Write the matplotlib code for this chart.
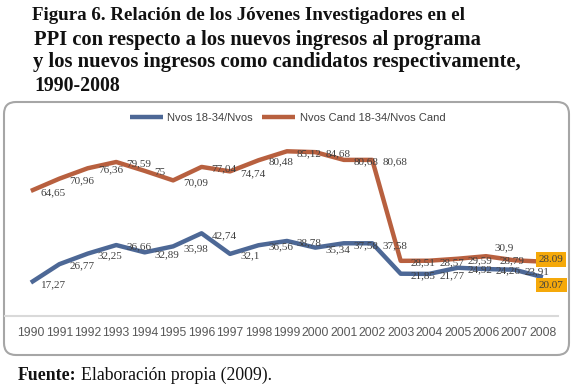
import matplotlib
matplotlib.use("Agg")
import matplotlib.pyplot as plt
from matplotlib.patches import FancyBboxPatch

# Data
years = [str(y) for y in range(1990, 2009)]
nvos = [17.27, 26.77, 32.25, 36.66, 32.89, 35.98, 42.74, 32.1, 36.56, 38.78,
        35.34, 37.58, 37.58, 21.85, 21.77, 24.92, 24.26, 23.91, 20.07]
nvos_cand = [64.65, 70.96, 76.36, 79.59, 75, 70.09, 77.04, 74.74, 80.48, 85.12,
             84.68, 80.68, 80.68, 28.51, 28.57, 29.59, 30.9, 28.79, 28.09]
series_names = ["Nvos 18-34/Nvos", "Nvos Cand 18-34/Nvos Cand"]

title_lines = [
    "Figura 6. Relación de los Jóvenes Investigadores en el",
    "PPI con respecto a los nuevos ingresos al programa",
    "y los nuevos ingresos como candidatos respectivamente,",
    "1990-2008",
]

blue = "#4d6896"
brown = "#b8603f"
label_col = "#404040"
highlight = "#f5a90a"

fig = plt.figure(figsize=(5.75, 3.85), dpi=100)

# rounded chart frame
frame = FancyBboxPatch((0.04, 0.30), 5.65, 2.53,
                       boxstyle="round,pad=0,rounding_size=0.12",
                       transform=fig.dpi_scale_trans, facecolor="white",
                       edgecolor="#a6a6a6", linewidth=1.5, zorder=0)
fig.patches.append(frame)

ax = fig.add_axes([5 / 575, 69 / 385, 553 / 575, 193.5 / 385])
ax.set_zorder(2)
ax.set_facecolor("none")
x = list(range(len(years)))

ax.plot(x, nvos, color=blue, lw=3.2, label=series_names[0], solid_capstyle="butt")
ax.plot(x, nvos_cand, color=brown, lw=3.2, label=series_names[1], solid_capstyle="butt")

ax.set_xlim(-0.91, 18.53)
ax.set_ylim(0, 100)
ax.set_xticks(x)
ax.set_xticklabels(years, fontsize=8.8, color="#595959", family="Liberation Sans")
ax.tick_params(axis="x", length=0, pad=8)
ax.set_yticks([])
for s in ["top", "left", "right"]:
    ax.spines[s].set_visible(False)
ax.spines["bottom"].set_color("#d9d9d9")
ax.spines["bottom"].set_linewidth(1.5)

# data labels; last year highlighted in an orange box
box_dy = {0: -8, 1: 2}
# a few crowded labels near the end of the orange series
tweaks = {(1, 16): (8, 8, "left"), (1, 17): (-2, 0, "center")}
for k, series in enumerate((nvos, nvos_cand)):
    n = len(series)
    for i, v in enumerate(series):
        if i == n - 1:
            ax.annotate(f"{v:.2f}", (i, v), xytext=(-4, box_dy[k]), textcoords="offset pixels",
                        ha="left", va="center", fontsize=8, color=label_col,
                        family="Liberation Serif", annotation_clip=False, zorder=6,
                        bbox=dict(boxstyle="square,pad=0.25", fc=highlight, ec="none"))
            continue
        dx, dy, ha = tweaks.get((k, i), (10, -2, "left"))
        txt = f"{v:g}".replace(".", ",")
        ax.annotate(txt, (i, v), xytext=(dx, dy), textcoords="offset pixels",
                    ha=ha, va="center", fontsize=8, color=label_col,
                    family="Liberation Serif", annotation_clip=False)

fig.legend(loc="center", bbox_to_anchor=(0.5, 1 - 118 / 385), ncol=2, frameon=False,
           prop={"family": "Liberation Sans", "size": 8}, labelcolor=label_col,
           handlelength=3.0, columnspacing=0.8, handletextpad=0.4)

# title
title_pos = [(32, 16), (34, 40), (33, 62), (34, 86)]
title_sizes = [13.7, 14.8, 14.9, 14.2]
for line, (px, py), fs in zip(title_lines, title_pos, title_sizes):
    fig.text(px / 575, 1 - py / 385, line, ha="left", va="center", fontsize=fs,
             fontweight="bold", family="Liberation Serif", color="#111111")

# source note
t = fig.text(18 / 575, 1 - 375 / 385, "Fuente:", ha="left", va="center", fontsize=12.8,
             fontweight="bold", family="Liberation Serif", color="#111111")
fig.canvas.draw()
bb = t.get_window_extent()
fig.text((bb.x1 + 4) / 575, 1 - 375 / 385, "Elaboración propia (2009).", ha="left",
         va="center", fontsize=12.8, family="Liberation Serif", color="#111111")

fig.savefig("out.png", dpi=100)
